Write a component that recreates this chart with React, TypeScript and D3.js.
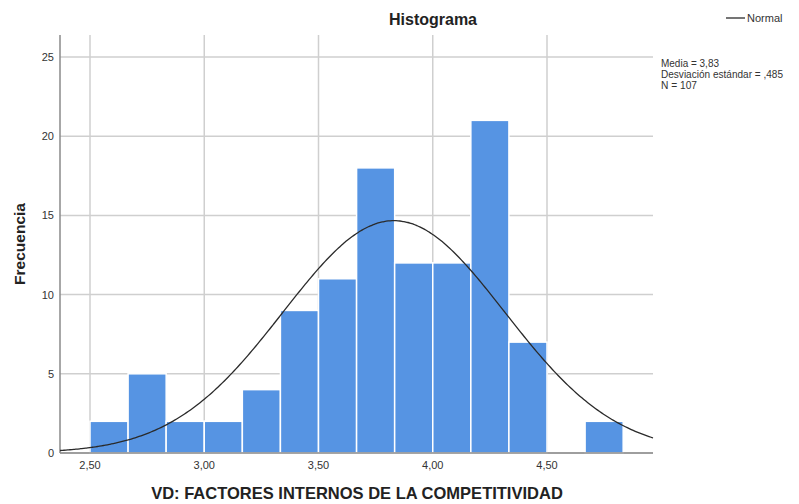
import React from "react";
import * as d3 from "d3";

const binStarts = [2.5, 2.6667, 2.8333, 3.0, 3.1667, 3.3333, 3.5, 3.6667, 3.8333, 4.0, 4.1667, 4.3333, 4.5, 4.6667];
const counts = [2, 5, 2, 2, 4, 9, 11, 18, 12, 12, 21, 7, 0, 2];
const binWidth = 1 / 6;
const xTicks = [2.5, 3.0, 3.5, 4.0, 4.5];
const yTicks = [0, 5, 10, 15, 20, 25];
const mean = 3.83;
const sd = 0.485;
const n = 107;
const statLines = ["Media = 3,83", "Desviación estándar = ,485", "N = 107"];

const W = 799;
const H = 504;
const left = 60;
const right = 653;
const top = 35;
const bottom = 453;
const statWidths = [58, 122, 36];

export default function App() {
  const x = d3.scaleLinear().domain([2.5, 4.5]).range([90, 547]);
  const xMin = x.invert(left);
  const xMax = x.invert(right);
  const y = d3.scaleLinear().domain([0, 25]).range([bottom, 57]);
  const fmt = (v: number) => v.toFixed(2).replace(".", ",");

  const curvePts: [number, number][] = [];
  for (let i = 0; i <= 300; i++) {
    const v = xMin + ((xMax - xMin) * i) / 300;
    const z = (v - mean) / sd;
    const f = (n * binWidth * Math.exp(-0.5 * z * z)) / (sd * Math.sqrt(2 * Math.PI));
    curvePts.push([v, f]);
  }
  const line = d3
    .line<[number, number]>()
    .x((d) => x(d[0]))
    .y((d) => y(d[1]))
    .curve(d3.curveBasis);

  const font = "'Liberation Sans', Arial, sans-serif";

  return (
    <svg width={W} height={H} style={{ position: "absolute", left: 0, top: 0, background: "#fff" }} fontFamily={font}>
      <rect x={0} y={0} width={W} height={H} fill="#fff" />
      {yTicks.map((t) => (
        <line key={"gy" + t} x1={left} x2={right} y1={y(t)} y2={y(t)} stroke="#cfcfcf" strokeWidth={1.5} />
      ))}
      {xTicks.map((t) => (
        <line key={"gx" + t} x1={x(t)} x2={x(t)} y1={top} y2={bottom} stroke="#cfcfcf" strokeWidth={1.5} />
      ))}
      {binStarts.map((b, i) =>
        counts[i] > 0 ? (
          <rect
            key={"b" + i}
            x={x(b)}
            y={y(counts[i])}
            width={x(b + binWidth) - x(b)}
            height={y(0) - y(counts[i])}
            fill="#5694e3"
            stroke="#ffffff"
            strokeWidth={1.5}
          />
        ) : null
      )}
      <line x1={left} x2={left} y1={top} y2={bottom} stroke="#8a8a8a" strokeWidth={1.5} />
      <line x1={left} x2={right} y1={bottom} y2={bottom} stroke="#8a8a8a" strokeWidth={1.5} />
      <path d={line(curvePts) || ""} fill="none" stroke="#2a2a2a" strokeWidth={1.3} />
      {yTicks.map((t) => (
        <text key={"ty" + t} x={left - 6} y={y(t) + 4} fontSize={11} fill="#333" textAnchor="end">
          {t}
        </text>
      ))}
      {xTicks.map((t) => (
        <text key={"tx" + t} x={x(t)} y={469} fontSize={11} fill="#333" textAnchor="middle">
          {fmt(t)}
        </text>
      ))}
      <text x={433} y={25} fontSize={16} fontWeight="bold" textAnchor="middle" fill="#222">
        Histograma
      </text>
      <text x={357} y={499} fontSize={16.5} fontWeight="bold" textAnchor="middle" fill="#222">
        VD: FACTORES INTERNOS DE LA COMPETITIVIDAD
      </text>
      <text
        transform={`translate(25,244) rotate(-90)`}
        fontSize={15.5}
        fontWeight="bold"
        textAnchor="middle"
        fill="#222"
      >
        Frecuencia
      </text>
      <line x1={726} x2={745} y1={18} y2={18} stroke="#2a2a2a" strokeWidth={1.3} />
      <text x={747} y={21.5} fontSize={11} fill="#333">
        Normal
      </text>
      {statLines.map((s, i) => (
        <text
          key={"s" + i}
          x={661}
          y={67 + i * 11}
          fontSize={10.5}
          fill="#333"
          textLength={statWidths[i]}
          lengthAdjust="spacingAndGlyphs"
        >
          {s}
        </text>
      ))}
    </svg>
  );
}
